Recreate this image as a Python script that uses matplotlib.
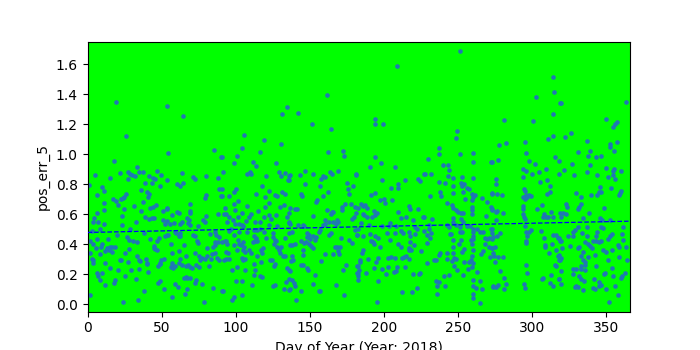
import numpy as np
import matplotlib
matplotlib.use('Agg')
import matplotlib.pyplot as plt

YEAR = 2018
COLUMN = 'pos_err_5'

# dashed trend line: value at day 0 and at day 365
trend_days = [0, 365]
trend_vals = [0.478, 0.553]

# (day of year, pos_err_5), grouped by stretch of the year
days_000_045 = [
    (19.5, 1.347), (25.7, 1.12), (17.7, 0.953), (33.1, 0.913), (4.9, 0.862), (15.0, 0.842),
    (21.7, 0.873), (27.1, 0.88), (28.7, 0.869), (30.0, 0.862), (32.2, 0.856), (34.9, 0.88),
    (37.2, 0.88), (41.2, 0.856), (44.1, 0.84), (27.1, 0.833), (38.5, 0.811), (43.2, 0.807),
    (1.3, 0.798), (9.9, 0.78), (11.0, 0.753), (6.3, 0.727), (40.1, 0.751), (41.2, 0.736),
    (40.8, 0.718), (26.0, 0.736), (24.9, 0.718), (22.4, 0.70), (23.7, 0.709), (17.5, 0.70),
    (19.3, 0.691), (35.8, 0.762), (11.2, 0.678), (20.6, 0.664), (31.1, 0.656), (37.6, 0.68),
    (44.3, 0.651), (41.9, 0.642), (36.3, 0.62), (11.0, 0.629), (24.4, 0.633), (6.3, 0.607),
    (38.5, 0.578), (4.3, 0.573), (3.6, 0.551), (7.4, 0.551), (41.2, 0.569), (43.4, 0.573),
    (23.1, 0.589), (32.5, 0.547), (11.0, 0.536), (23.1, 0.527), (8.5, 0.50), (28.9, 0.504),
    (2.9, 0.491), (37.8, 0.473), (26.6, 0.447), (28.0, 0.429), (30.7, 0.42), (33.6, 0.411),
    (19.7, 0.46), (6.3, 0.436), (13.7, 0.433), (42.5, 0.433), (1.8, 0.418), (3.6, 0.402),
    (9.9, 0.398), (9.4, 0.38), (16.6, 0.384), (15.0, 0.38), (13.0, 0.373), (14.3, 0.362),
    (12.1, 0.353), (18.8, 0.384), (5.6, 0.371), (45.2, 0.371), (25.1, 0.344), (28.2, 0.367),
    (16.8, 0.347), (8.5, 0.333), (1.8, 0.344), (33.1, 0.318), (34.5, 0.296), (35.6, 0.289),
    (2.7, 0.30), (3.6, 0.291), (4.0, 0.273), (21.7, 0.296), (22.4, 0.291), (39.6, 0.30),
    (40.3, 0.273), (39.9, 0.267), (27.3, 0.278), (12.1, 0.273), (15.0, 0.242), (34.5, 0.233),
    (20.4, 0.229), (29.6, 0.224), (40.8, 0.216), (6.3, 0.207), (7.2, 0.184), (8.5, 0.162),
    (9.9, 0.207), (25.1, 0.189), (32.5, 0.169), (18.8, 0.162), (17.7, 0.14), (11.6, 0.129),
    (37.8, 0.089), (1.8, 0.062), (33.8, 0.029), (23.7, 0.013),
]

days_045_090 = [
    (53.3, 1.32), (64.7, 1.253), (54.0, 1.007), (85.5, 1.027), (90.0, 0.98), (46.6, 0.887),
    (49.3, 0.86), (45.5, 0.838), (53.3, 0.827), (48.6, 0.789), (64.0, 0.873), (60.7, 0.802),
    (62.3, 0.791), (64.7, 0.807), (71.4, 0.847), (72.6, 0.836), (80.2, 0.853), (88.2, 0.842),
    (88.9, 0.767), (90.0, 0.722), (80.2, 0.729), (79.5, 0.707), (46.1, 0.658), (53.3, 0.644),
    (53.3, 0.633), (69.4, 0.667), (69.2, 0.624), (69.4, 0.611), (50.6, 0.618), (60.7, 0.616),
    (61.8, 0.607), (57.3, 0.596), (88.2, 0.602), (44.8, 0.573), (51.1, 0.562), (53.3, 0.556),
    (55.5, 0.533), (52.2, 0.536), (67.4, 0.576), (68.5, 0.562), (68.1, 0.544), (63.8, 0.551),
    (62.7, 0.536), (58.4, 0.542), (80.2, 0.589), (78.1, 0.562), (79.5, 0.551), (74.6, 0.522),
    (69.4, 0.529), (71.2, 0.462), (72.3, 0.453), (58.9, 0.48), (60.0, 0.473), (53.3, 0.462),
    (54.4, 0.46), (52.2, 0.451), (62.7, 0.473), (62.2, 0.456), (61.4, 0.451), (82.4, 0.469),
    (86.0, 0.48), (86.9, 0.462), (48.4, 0.44), (46.6, 0.418), (73.7, 0.424), (74.8, 0.407),
    (88.9, 0.447), (86.2, 0.413), (87.8, 0.411), (56.0, 0.402), (65.2, 0.396), (44.8, 0.389),
    (45.7, 0.367), (46.8, 0.358), (80.6, 0.373), (84.6, 0.38), (85.8, 0.393), (85.8, 0.34),
    (84.2, 0.336), (72.8, 0.34), (56.7, 0.34), (62.0, 0.356), (66.7, 0.318), (75.7, 0.296),
    (77.0, 0.309), (75.0, 0.322), (79.0, 0.30), (80.8, 0.318), (83.1, 0.302), (87.3, 0.307),
    (88.9, 0.291), (49.3, 0.296), (48.6, 0.273), (47.5, 0.251), (48.8, 0.269), (51.7, 0.302),
    (56.7, 0.273), (57.3, 0.251), (56.2, 0.247), (59.1, 0.256), (57.8, 0.242), (62.3, 0.302),
    (61.8, 0.273), (63.6, 0.258), (66.7, 0.251), (69.0, 0.244), (70.5, 0.24), (68.1, 0.26),
    (75.2, 0.247), (73.4, 0.26), (82.0, 0.251), (65.2, 0.171), (66.3, 0.18), (67.4, 0.176),
    (69.0, 0.171), (47.5, 0.14), (48.8, 0.151), (58.7, 0.133), (61.1, 0.113), (67.4, 0.10),
    (66.1, 0.069), (72.8, 0.14), (73.4, 0.158), (77.5, 0.131), (84.9, 0.107), (90.5, 0.089),
    (51.3, 0.10), (56.7, 0.047), (78.6, 0.013),
]

days_090_136 = [
    (134.6, 1.313), (131.2, 1.269), (105.7, 1.127), (118.9, 1.096), (130.3, 1.067), (104.3, 1.04),
    (101.0, 0.987), (116.4, 1.013), (90.7, 0.982), (99.0, 0.942), (111.5, 0.947), (114.0, 0.924),
    (127.2, 0.942), (91.6, 0.88), (107.3, 0.869), (109.3, 0.88), (110.6, 0.869), (120.2, 0.856),
    (129.0, 0.88), (130.8, 0.856), (133.2, 0.873), (135.9, 0.858), (135.2, 0.829), (117.8, 0.787),
    (99.9, 0.771), (99.0, 0.751), (90.7, 0.769), (131.2, 0.751), (133.2, 0.736), (122.7, 0.756),
    (113.5, 0.736), (126.3, 0.731), (127.6, 0.722), (120.0, 0.713), (95.6, 0.72), (90.7, 0.722),
    (101.7, 0.691), (99.0, 0.667), (122.3, 0.678), (119.6, 0.651), (107.7, 0.656), (132.8, 0.662),
    (129.9, 0.647), (92.7, 0.642), (92.3, 0.598), (93.2, 0.602), (99.2, 0.631), (103.9, 0.611),
    (115.3, 0.618), (110.2, 0.602), (109.1, 0.584), (127.4, 0.596), (119.4, 0.584), (95.6, 0.584),
    (101.2, 0.584), (122.7, 0.593), (123.6, 0.567), (134.6, 0.584), (97.9, 0.558), (94.0, 0.551),
    (116.2, 0.551), (107.0, 0.556), (135.7, 0.544), (99.4, 0.536), (102.3, 0.536), (103.9, 0.527),
    (105.0, 0.524), (112.9, 0.551), (122.5, 0.527), (127.9, 0.524), (95.4, 0.491), (96.7, 0.498),
    (99.0, 0.458), (92.7, 0.418), (90.9, 0.413), (94.0, 0.402), (93.2, 0.422), (102.3, 0.478),
    (107.9, 0.484), (112.0, 0.451), (113.8, 0.442), (113.1, 0.424), (114.6, 0.422), (111.5, 0.416),
    (116.7, 0.50), (119.4, 0.48), (112.4, 0.496), (114.2, 0.496), (104.8, 0.416), (103.5, 0.393),
    (102.1, 0.402), (101.2, 0.429), (124.9, 0.473), (125.4, 0.447), (126.3, 0.429), (125.8, 0.402),
    (127.2, 0.418), (127.6, 0.38), (129.2, 0.362), (129.9, 0.34), (130.6, 0.384), (120.7, 0.438),
    (133.2, 0.44), (118.7, 0.376), (117.8, 0.34), (116.9, 0.362), (109.1, 0.362), (110.6, 0.344),
    (105.9, 0.384), (104.8, 0.362), (106.4, 0.349), (99.0, 0.391), (100.8, 0.358), (93.2, 0.349),
    (94.5, 0.34), (103.9, 0.304), (106.1, 0.30), (105.2, 0.296), (91.8, 0.296), (93.4, 0.30),
    (95.6, 0.30), (114.2, 0.322), (123.2, 0.296), (124.7, 0.291), (126.3, 0.269), (125.8, 0.256),
    (131.7, 0.318), (133.0, 0.322), (116.9, 0.278), (112.4, 0.269), (113.3, 0.229), (100.8, 0.247),
    (97.6, 0.224), (106.4, 0.224), (118.0, 0.18), (116.4, 0.189), (112.4, 0.193), (134.8, 0.242),
    (136.1, 0.229), (100.3, 0.156), (104.3, 0.156), (110.8, 0.127), (125.4, 0.118), (126.3, 0.129),
    (132.6, 0.102), (133.9, 0.149), (136.1, 0.167), (136.1, 0.096), (91.1, 0.089), (98.5, 0.047),
    (97.2, 0.024), (104.3, 0.06),
]

days_136_182 = [
    (161.4, 1.393), (142.0, 1.273), (151.4, 1.202), (164.1, 1.167), (162.1, 1.013), (172.2, 1.02),
    (173.1, 0.987), (136.8, 0.862), (135.7, 0.829), (143.3, 0.862), (146.7, 0.887), (152.0, 0.867),
    (157.4, 0.838), (160.3, 0.847), (158.8, 0.858), (163.7, 0.884), (165.0, 0.871), (168.8, 0.887),
    (180.9, 0.864), (146.7, 0.80), (156.7, 0.789), (174.9, 0.807), (175.6, 0.767), (176.2, 0.733),
    (179.4, 0.791), (144.0, 0.733), (144.7, 0.722), (158.8, 0.72), (162.1, 0.747), (154.7, 0.696),
    (154.1, 0.68), (136.8, 0.64), (136.1, 0.607), (141.1, 0.633), (140.2, 0.633), (152.0, 0.589),
    (161.4, 0.627), (164.8, 0.613), (164.1, 0.60), (165.9, 0.613), (171.5, 0.651), (171.5, 0.629),
    (174.0, 0.667), (177.6, 0.667), (180.5, 0.651), (181.4, 0.607), (135.7, 0.551), (136.8, 0.536),
    (142.0, 0.529), (145.6, 0.529), (146.2, 0.518), (160.3, 0.562), (162.8, 0.547), (168.2, 0.562),
    (169.3, 0.551), (167.7, 0.536), (165.5, 0.547), (158.8, 0.527), (160.1, 0.536), (178.2, 0.569),
    (179.6, 0.584), (180.5, 0.496), (181.8, 0.464), (138.0, 0.484), (135.7, 0.473), (148.0, 0.473),
    (149.1, 0.46), (148.2, 0.447), (150.3, 0.436), (151.8, 0.451), (153.6, 0.429), (154.3, 0.447),
    (155.9, 0.484), (157.0, 0.496), (162.6, 0.464), (164.1, 0.473), (143.8, 0.418), (145.8, 0.407),
    (147.3, 0.416), (149.1, 0.402), (150.5, 0.389), (151.8, 0.376), (139.7, 0.402), (138.0, 0.396),
    (136.4, 0.391), (170.9, 0.44), (176.5, 0.429), (178.2, 0.407), (167.0, 0.38), (168.6, 0.38),
    (170.4, 0.38), (145.1, 0.358), (145.6, 0.329), (159.9, 0.333), (165.5, 0.333), (169.3, 0.351),
    (170.0, 0.336), (138.0, 0.318), (138.4, 0.296), (137.5, 0.284), (157.4, 0.289), (174.2, 0.26),
    (172.2, 0.229), (143.8, 0.26), (145.1, 0.26), (148.2, 0.24), (148.7, 0.229), (136.6, 0.218),
    (153.4, 0.193), (181.8, 0.251), (181.8, 0.207), (137.7, 0.162), (139.1, 0.14), (140.2, 0.118),
    (151.8, 0.136), (167.5, 0.127), (143.8, 0.089), (136.6, 0.098), (156.5, 0.089), (157.0, 0.084),
    (173.1, 0.06), (140.6, 0.029),
]

days_182_227 = [
    (208.5, 1.593), (193.7, 1.233), (193.7, 1.20), (199.1, 1.20), (193.7, 0.98), (197.7, 0.94),
    (190.4, 0.913), (207.2, 0.913), (181.4, 0.867), (227.3, 0.867), (223.3, 0.833), (224.6, 0.82),
    (198.4, 0.827), (214.1, 0.827), (209.4, 0.80), (209.8, 0.773), (204.5, 0.773), (191.0, 0.727),
    (193.7, 0.74), (197.1, 0.693), (199.8, 0.704), (200.4, 0.678), (205.1, 0.693), (184.8, 0.667),
    (187.4, 0.66), (188.8, 0.64), (182.5, 0.64), (185.9, 0.656), (216.6, 0.656), (217.9, 0.633),
    (222.8, 0.633), (193.0, 0.624), (195.5, 0.607), (194.2, 0.593), (191.7, 0.584), (185.9, 0.604),
    (186.8, 0.593), (188.3, 0.578), (209.8, 0.613), (226.2, 0.58), (211.6, 0.576), (215.2, 0.58),
    (219.5, 0.558), (203.8, 0.544), (190.1, 0.527), (184.8, 0.544), (182.3, 0.50), (181.8, 0.462),
    (198.4, 0.524), (207.8, 0.522), (220.8, 0.513), (222.6, 0.504), (185.9, 0.456), (190.4, 0.469),
    (193.7, 0.451), (201.8, 0.473), (203.1, 0.518), (207.2, 0.473), (211.6, 0.491), (212.8, 0.473),
    (216.6, 0.484), (217.7, 0.451), (221.0, 0.467), (227.3, 0.491), (191.3, 0.424), (192.6, 0.411),
    (193.0, 0.398), (195.7, 0.438), (203.8, 0.429), (209.6, 0.402), (211.2, 0.384), (217.7, 0.416),
    (220.6, 0.396), (197.1, 0.38), (185.9, 0.358), (185.4, 0.34), (217.2, 0.373), (218.3, 0.362),
    (216.6, 0.358), (225.3, 0.353), (184.1, 0.296), (183.6, 0.278), (182.5, 0.256), (183.2, 0.229),
    (182.5, 0.207), (182.5, 0.184), (182.5, 0.162), (189.2, 0.30), (196.2, 0.307), (194.4, 0.282),
    (202.7, 0.307), (204.7, 0.311), (207.4, 0.307), (211.9, 0.307), (213.4, 0.313), (215.0, 0.322),
    (217.2, 0.30), (193.0, 0.24), (198.4, 0.233), (202.4, 0.244), (208.7, 0.247), (214.5, 0.244),
    (206.5, 0.211), (207.8, 0.218), (187.7, 0.207), (201.1, 0.20), (219.5, 0.20), (223.5, 0.20),
    (224.4, 0.207), (195.7, 0.156), (212.5, 0.08), (219.0, 0.08), (222.4, 0.107), (195.1, 0.013),
]

days_227_273 = [
    (251.3, 1.687), (249.5, 1.153), (248.8, 1.107), (237.4, 1.04), (237.4, 1.0), (251.5, 1.0),
    (259.8, 1.007), (259.8, 0.947), (230.0, 0.967), (272.3, 0.947), (240.1, 0.927), (243.4, 0.927),
    (244.1, 0.893), (227.8, 0.867), (232.0, 0.867), (243.4, 0.853), (246.8, 0.84), (252.9, 0.847),
    (259.8, 0.84), (237.4, 0.813), (241.4, 0.807), (252.2, 0.807), (254.2, 0.802), (252.9, 0.789),
    (246.8, 0.789), (256.2, 0.773), (257.6, 0.767), (238.1, 0.747), (238.7, 0.724), (246.8, 0.74),
    (253.5, 0.747), (259.6, 0.736), (261.6, 0.727), (260.2, 0.713), (273.0, 0.74), (231.3, 0.72),
    (254.9, 0.70), (266.3, 0.707), (269.6, 0.68), (242.8, 0.673), (246.1, 0.66), (246.8, 0.638),
    (248.8, 0.629), (250.2, 0.616), (251.7, 0.607), (259.6, 0.696), (259.6, 0.651), (259.6, 0.629),
    (259.6, 0.598), (253.5, 0.607), (272.1, 0.651), (273.0, 0.629), (227.1, 0.584), (232.7, 0.567),
    (268.7, 0.589), (246.8, 0.573), (246.8, 0.551), (252.0, 0.567), (253.5, 0.551), (230.2, 0.529),
    (230.2, 0.50), (231.6, 0.473), (242.8, 0.529), (244.1, 0.513), (248.6, 0.529), (251.3, 0.513),
    (252.9, 0.478), (256.2, 0.518), (258.0, 0.518), (260.2, 0.504), (260.2, 0.478), (260.2, 0.451),
    (260.2, 0.433), (262.9, 0.50), (264.7, 0.484), (267.0, 0.482), (271.9, 0.504), (273.0, 0.473),
    (229.3, 0.462), (231.1, 0.44), (228.9, 0.407), (244.3, 0.469), (245.5, 0.469), (246.4, 0.429),
    (246.8, 0.384), (246.8, 0.34), (247.3, 0.307), (246.1, 0.284), (247.3, 0.256), (251.3, 0.478),
    (251.7, 0.429), (250.8, 0.398), (258.4, 0.429), (259.1, 0.402), (260.2, 0.358), (259.6, 0.322),
    (258.4, 0.296), (257.3, 0.278), (268.1, 0.438), (269.6, 0.433), (271.0, 0.442), (273.0, 0.436),
    (267.9, 0.402), (270.8, 0.384), (273.0, 0.373), (267.0, 0.356), (265.6, 0.336), (252.4, 0.349),
    (254.2, 0.367), (242.3, 0.34), (242.8, 0.30), (237.8, 0.34), (237.2, 0.329), (233.6, 0.296),
    (234.9, 0.291), (229.3, 0.273), (248.8, 0.30), (249.5, 0.229), (254.2, 0.282), (256.9, 0.233),
    (260.0, 0.273), (259.6, 0.249), (271.7, 0.313), (244.1, 0.196), (240.8, 0.184), (253.5, 0.193),
    (262.9, 0.216), (234.9, 0.151), (237.2, 0.147), (235.6, 0.118), (241.4, 0.118), (259.8, 0.158),
    (259.8, 0.118), (259.8, 0.069), (259.8, 0.04), (262.3, 0.107), (264.9, 0.151), (266.3, 0.10),
    (273.7, 0.113), (236.1, 0.067), (264.9, 0.007),
]

days_273_318 = [
    (313.9, 1.513), (314.6, 1.413), (318.8, 1.342), (313.9, 1.267), (302.5, 1.38), (281.0, 1.227),
    (300.5, 1.22), (310.5, 1.10), (314.3, 1.12), (277.6, 1.06), (282.3, 1.073), (295.1, 1.082),
    (295.8, 1.007), (277.2, 0.962), (272.7, 0.949), (297.8, 0.953), (301.6, 0.933), (315.2, 0.98),
    (293.7, 0.904), (295.8, 0.887), (299.8, 0.867), (304.5, 0.884), (309.2, 0.90), (293.7, 0.851),
    (275.8, 0.833), (275.8, 0.80), (309.9, 0.829), (317.9, 0.867), (305.2, 0.813), (311.9, 0.787),
    (294.2, 0.767), (295.1, 0.758), (272.7, 0.736), (276.3, 0.736), (279.6, 0.731), (293.7, 0.718),
    (295.1, 0.704), (296.4, 0.718), (297.8, 0.727), (299.4, 0.724), (295.5, 0.731), (309.9, 0.736),
    (311.9, 0.751), (293.7, 0.656), (293.7, 0.633), (306.5, 0.66), (272.7, 0.633), (276.3, 0.624),
    (275.6, 0.616), (280.3, 0.607), (303.2, 0.633), (293.7, 0.598), (294.4, 0.584), (295.1, 0.571),
    (307.9, 0.602), (309.2, 0.58), (307.2, 0.58), (310.8, 0.58), (312.6, 0.613), (314.3, 0.58),
    (275.6, 0.558), (318.6, 0.607), (272.7, 0.504), (278.3, 0.473), (276.1, 0.456), (273.8, 0.447),
    (295.1, 0.518), (295.8, 0.478), (297.8, 0.484), (296.4, 0.451), (299.1, 0.496), (295.8, 0.422),
    (295.8, 0.407), (305.8, 0.487), (307.9, 0.438), (308.5, 0.396), (308.5, 0.384), (313.9, 0.462),
    (316.4, 0.462), (317.5, 0.44), (318.6, 0.418), (313.2, 0.398), (315.9, 0.362), (317.5, 0.322),
    (318.6, 0.296), (272.7, 0.373), (274.9, 0.384), (273.4, 0.34), (274.5, 0.318), (311.2, 0.34),
    (277.2, 0.313), (280.5, 0.313), (274.9, 0.282), (315.2, 0.262), (315.9, 0.251), (295.5, 0.26),
    (296.4, 0.207), (278.1, 0.222), (312.6, 0.193), (317.9, 0.167), (281.2, 0.176), (282.3, 0.133),
    (281.2, 0.10), (273.8, 0.118), (275.6, 0.113), (277.2, 0.129), (294.4, 0.133), (295.1, 0.107),
    (306.5, 0.167), (307.2, 0.173), (311.9, 0.14), (314.3, 0.118), (319.3, 0.136),
]

days_318_365 = [
    (319.5, 1.34), (363.0, 1.347), (349.5, 1.233), (356.9, 1.213), (355.6, 1.20), (354.2, 1.184),
    (322.0, 1.118), (326.0, 1.14), (336.8, 1.087), (352.2, 1.067), (352.2, 1.047), (356.9, 1.08),
    (354.9, 1.02), (330.7, 1.013), (338.8, 1.02), (337.4, 0.989), (343.0, 0.98), (346.4, 0.987),
    (318.4, 0.953), (326.7, 0.933), (338.8, 0.927), (349.5, 0.909), (354.9, 0.90), (354.2, 0.887),
    (321.3, 0.896), (359.6, 0.887), (336.8, 0.88), (328.0, 0.86), (343.5, 0.86), (350.9, 0.847),
    (354.2, 0.86), (356.2, 0.833), (345.5, 0.78), (346.4, 0.751), (344.8, 0.747), (352.9, 0.773),
    (359.2, 0.744), (358.7, 0.727), (359.8, 0.758), (329.4, 0.74), (332.7, 0.713), (339.4, 0.731),
    (343.5, 0.727), (322.9, 0.669), (323.6, 0.651), (332.7, 0.669), (331.4, 0.651), (330.7, 0.636),
    (348.2, 0.64), (338.1, 0.611), (320.6, 0.607), (322.7, 0.602), (319.5, 0.584), (334.1, 0.573),
    (345.5, 0.573), (346.8, 0.562), (346.2, 0.513), (347.7, 0.507), (352.2, 0.562), (361.6, 0.513),
    (328.7, 0.496), (330.7, 0.513), (327.4, 0.484), (333.4, 0.473), (336.8, 0.513), (336.8, 0.451),
    (324.0, 0.451), (327.4, 0.451), (318.4, 0.44), (319.5, 0.42), (320.2, 0.373), (343.5, 0.478),
    (342.8, 0.451), (353.6, 0.469), (352.2, 0.451), (350.9, 0.433), (360.9, 0.469), (361.6, 0.429),
    (335.4, 0.411), (337.4, 0.402), (338.8, 0.389), (340.1, 0.373), (340.8, 0.424), (342.8, 0.42),
    (344.8, 0.416), (346.2, 0.42), (325.3, 0.389), (330.7, 0.371), (331.8, 0.384), (347.5, 0.358),
    (349.5, 0.349), (357.6, 0.391), (358.9, 0.38), (363.6, 0.384), (353.8, 0.362), (318.4, 0.329),
    (319.5, 0.309), (318.4, 0.291), (334.1, 0.349), (332.7, 0.322), (334.5, 0.296), (335.4, 0.282),
    (337.4, 0.313), (342.1, 0.329), (350.9, 0.291), (358.9, 0.313), (364.3, 0.296), (327.4, 0.233),
    (329.4, 0.233), (332.7, 0.233), (335.4, 0.229), (333.2, 0.251), (335.4, 0.258), (342.8, 0.256),
    (353.6, 0.238), (319.5, 0.222), (348.9, 0.207), (348.2, 0.20), (362.3, 0.207), (360.9, 0.189),
    (359.8, 0.171), (327.4, 0.20), (332.7, 0.167), (334.7, 0.156), (331.4, 0.184), (341.5, 0.167),
    (344.8, 0.144), (346.2, 0.129), (344.8, 0.122), (354.2, 0.184), (329.4, 0.118), (330.7, 0.113),
    (328.7, 0.113), (340.8, 0.107), (342.1, 0.098), (334.1, 0.091), (349.5, 0.10), (356.2, 0.118),
    (357.6, 0.06), (351.5, 0.016), (318.4, 0.169),
]

segments = [days_000_045, days_045_090, days_090_136, days_136_182,
            days_182_227, days_227_273, days_273_318, days_318_365]
pts = np.array([p for seg in segments for p in seg])
doy = pts[:, 0]
err = pts[:, 1]

fig = plt.figure(figsize=(7, 3.5), dpi=100)
ax = fig.add_subplot(111)
ax.set_facecolor('#00ff00')
ax.scatter(doy, err, s=11, color='tab:blue', linewidths=0, zorder=2)
ax.plot(trend_days, trend_vals, ls='--', color='b', lw=0.9, zorder=3)

ax.set_xlim(0, 366)
ax.set_ylim(-0.05, 1.75)
ax.set_yticks(np.arange(0, 1.61, 0.2))
ax.set_xlabel('Day of Year (Year: %d)' % YEAR)
ax.set_ylabel(COLUMN)

plt.savefig('out.png', dpi=100)
